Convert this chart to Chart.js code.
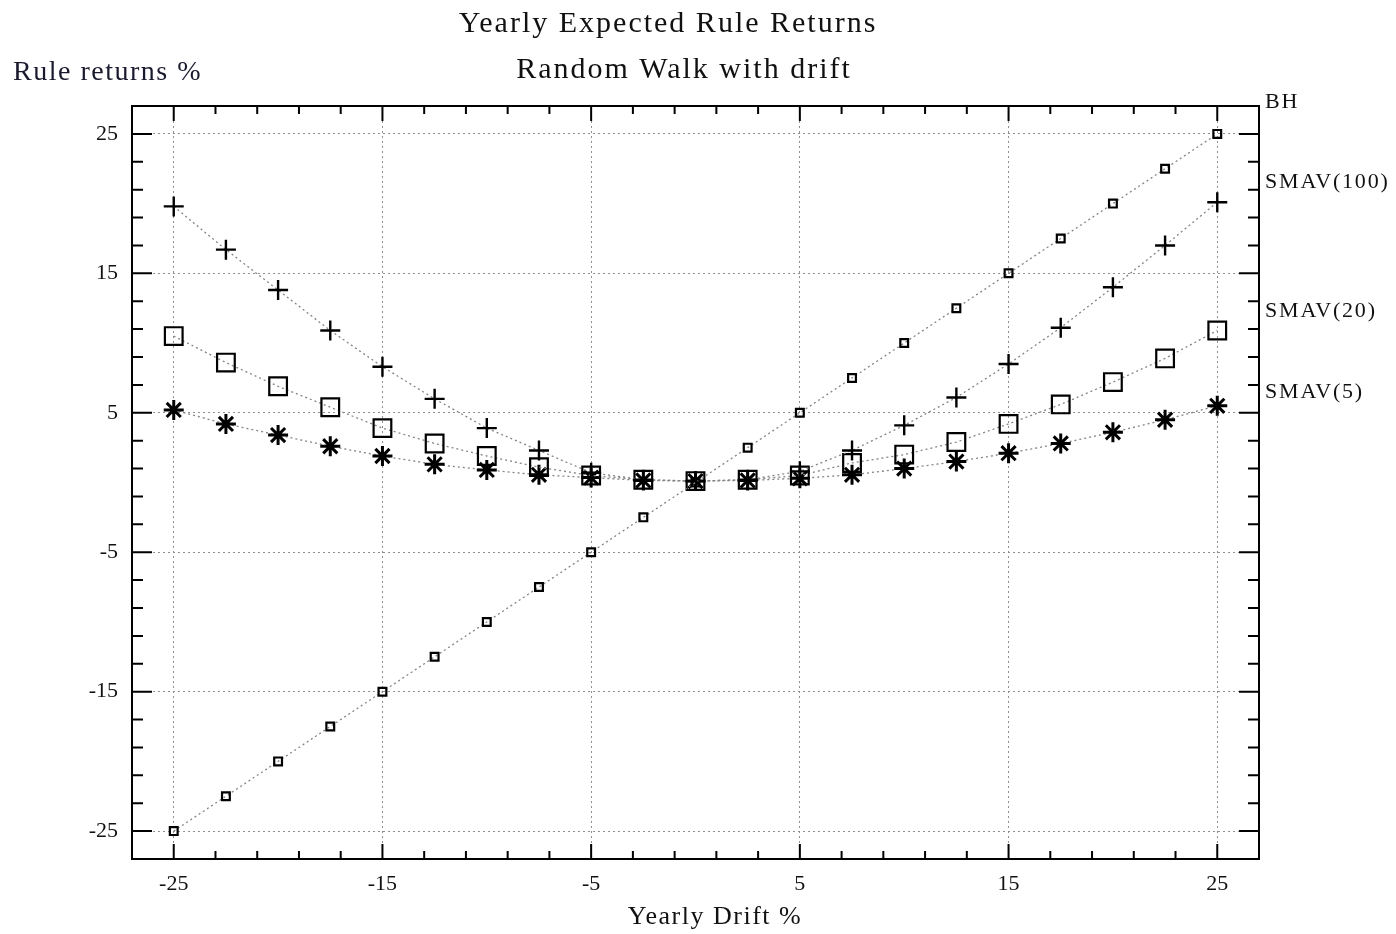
<!DOCTYPE html>
<html>
<head>
<meta charset="utf-8">
<script src="https://cdn.jsdelivr.net/npm/chart.js@4.4.1/dist/chart.umd.min.js"></script>
<style>
  body { margin: 0; background: #fff; }
  #wrap { width: 1396px; height: 934px; position: relative; }
</style>
</head>
<body>
<div id="wrap"><canvas id="rules"></canvas></div>
<script>
// yearly drift %
const drift = [-25, -22.5, -20, -17.5, -15, -12.5, -10, -7.5, -5, -2.5, 0, 2.5, 5, 7.5, 10, 12.5, 15, 17.5, 20, 22.5, 25];
// expected rule returns %
const bh      = [-25, -22.5, -20, -17.5, -15, -12.5, -10, -7.5, -5, -2.5, 0, 2.5, 5, 7.5, 10, 12.5, 15, 17.5, 20, 22.5, 25];
const smav100 = [19.8, 16.7, 13.8, 10.9, 8.3, 6.0, 3.9, 2.3, 0.7, 0.2, 0.1, 0.2, 0.8, 2.3, 4.1, 6.1, 8.5, 11.1, 14.0, 17.0, 20.1];
const smav20  = [10.5, 8.6, 6.9, 5.4, 3.9, 2.8, 1.9, 1.1, 0.5, 0.2, 0.1, 0.2, 0.5, 1.4, 2.0, 2.9, 4.2, 5.6, 7.2, 8.9, 10.9];
const smav5   = [5.2, 4.2, 3.4, 2.6, 1.9, 1.3, 0.9, 0.55, 0.35, 0.15, 0.1, 0.15, 0.3, 0.55, 1.0, 1.5, 2.1, 2.8, 3.6, 4.5, 5.5];
const seriesNames = ['BH', 'SMAV(100)', 'SMAV(20)', 'SMAV(5)'];
const xTicks = [-25, -15, -5, 5, 15, 25];
const yTicks = [-25, -15, -5, 5, 15, 25];

const SERIF = "'Liberation Serif', 'DejaVu Serif', serif";
const INK = '#111';

const pts = arr => drift.map((x, i) => ({ x: x, y: arr[i] }));

function series(name, arr, style, radius, width, shift) {
  return {
    label: name,
    data: pts(arr),
    showLine: true,
    borderColor: '#858585',
    borderWidth: 1.3,
    borderDash: [2, 3],
    pointStyle: style,
    pointRadius: radius,
    pointBorderColor: '#000',
    pointBackgroundColor: 'rgba(255,255,255,0)',
    pointBorderWidth: width,
    labelShift: shift
  };
}

// inward ticks on all four sides, frame, titles and series names
const paperPlot = {
  id: 'paperPlot',
  afterDraw(chart) {
    const ctx = chart.ctx;
    const a = chart.chartArea;
    const xs = chart.scales.x, ys = chart.scales.y;
    ctx.save();
    ctx.strokeStyle = '#000';
    ctx.lineWidth = 2;
    ctx.strokeRect(a.left, a.top, a.right - a.left, a.bottom - a.top);
    for (let v = -25; v <= 25; v += 2) {
      const big = xTicks.includes(v);
      const px = xs.getPixelForValue(v);
      const lx = big ? 15 : 8;
      ctx.beginPath();
      ctx.moveTo(px, a.bottom); ctx.lineTo(px, a.bottom - lx);
      ctx.moveTo(px, a.top); ctx.lineTo(px, a.top + lx);
      ctx.stroke();
      const py = ys.getPixelForValue(v);
      const ly = yTicks.includes(v) ? 20 : 11;
      ctx.beginPath();
      ctx.moveTo(a.left, py); ctx.lineTo(a.left + ly, py);
      ctx.moveTo(a.right, py); ctx.lineTo(a.right - ly, py);
      ctx.stroke();
    }

    ctx.fillStyle = INK;
    ctx.textAlign = 'center';
    ctx.textBaseline = 'alphabetic';
    ctx.letterSpacing = '2px';
    ctx.font = '30px ' + SERIF;
    ctx.fillText('Yearly Expected Rule Returns', 668, 32);
    ctx.fillText('Random Walk with drift', 684, 78);

    ctx.letterSpacing = '1.5px';
    ctx.font = '28px ' + SERIF;
    ctx.textAlign = 'left';
    ctx.fillStyle = '#1a1a2e';
    ctx.fillText('Rule returns %', 13, 80);

    ctx.fillStyle = INK;
    ctx.font = '26px ' + SERIF;
    ctx.textAlign = 'center';
    ctx.textBaseline = 'middle';
    ctx.fillText('Yearly Drift %', 715, 917);

    ctx.letterSpacing = '1.8px';
    ctx.font = '22px ' + SERIF;
    ctx.textAlign = 'left';
    chart.data.datasets.forEach((ds, i) => {
      const meta = chart.getDatasetMeta(i);
      const last = meta.data[meta.data.length - 1];
      ctx.fillText(ds.label, a.right + 6, last.y - ds.labelShift);
    });
    ctx.restore();
  }
};

const gridLines = {
  color: '#8f8f8f',
  lineWidth: 1,
  drawTicks: false
};

new Chart(document.getElementById('rules'), {
  type: 'scatter',
  data: {
    datasets: [
      series(seriesNames[0], bh, 'rect', 5.5, 2.2, 32),
      series(seriesNames[1], smav100, 'cross', 10, 2.4, 20),
      series(seriesNames[2], smav20, 'rect', 12.5, 2.2, 19),
      series(seriesNames[3], smav5, 'star', 10, 3, 14)
    ]
  },
  options: {
    responsive: true,
    maintainAspectRatio: false,
    animation: false,
    layout: { padding: { top: 106, right: 137, left: 0, bottom: 0 } },
    plugins: { legend: { display: false }, tooltip: { enabled: false } },
    scales: {
      x: {
        type: 'linear',
        min: -27,
        max: 27,
        afterBuildTicks: s => { s.ticks = xTicks.map(v => ({ value: v })); },
        afterFit: s => { s.height = 75; },
        grid: gridLines,
        border: { display: true, color: '#000', width: 2, dash: [2, 3] },
        ticks: { color: INK, padding: 12, font: { family: SERIF, size: 22 }, maxRotation: 0 }
      },
      y: {
        type: 'linear',
        min: -27,
        max: 27,
        afterBuildTicks: s => { s.ticks = yTicks.map(v => ({ value: v })); },
        afterFit: s => { s.width = 132; },
        grid: gridLines,
        border: { display: true, color: '#000', width: 2, dash: [2, 3] },
        ticks: { color: INK, padding: 14, font: { family: SERIF, size: 22 } }
      }
    }
  },
  plugins: [paperPlot]
});
</script>
</body>
</html>
